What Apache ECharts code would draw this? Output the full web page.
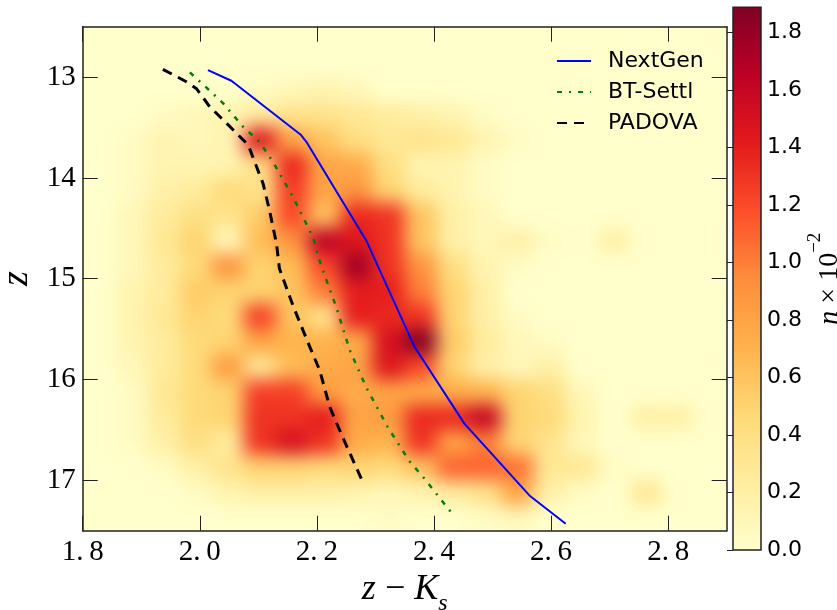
<!DOCTYPE html>
<html><head><meta charset="utf-8">
<script src="https://cdn.jsdelivr.net/npm/echarts@6/dist/echarts.min.js"></script>
<style>html,body{margin:0;padding:0;background:#fff}#c{width:837px;height:610px}</style>
</head><body><div id="c"></div>
<script>
// ---- data ----
const xCenters = [1.8275,1.8825,1.9375,1.9925,2.0475,2.1025,2.1575,2.2125,2.2675,2.3225,2.3775,2.4325,2.4875,2.5425,2.5975,2.6525,2.7075,2.7625,2.8175,2.8725];
const yCenters = [12.625,12.875,13.125,13.375,13.625,13.875,14.125,14.375,14.625,14.875,15.125,15.375,15.625,15.875,16.125,16.375,16.625,16.875,17.125,17.375];
const density = [
 [0,0,0,0,0,0,0,0,0,0,0,0,0,0,0,0,0,0,0,0],
 [0,0,0,0,0,0,0,0,0,0,0,0,0,0,0,0,0,0,0,0],
 [0,0,0,0,0,0.05,0.1,0.15,0.1,0,0,0,0,0,0,0,0,0,0,0],
 [0,0,0.05,0.1,0.15,0.25,0.35,0.35,0.3,0.25,0.2,0.15,0.05,0,0,0,0,0,0,0],
 [0,0.05,0.15,0.1,0.15,1.45,0.8,0.6,0.4,0.3,0.35,0.3,0.15,0.05,0,0,0,0,0,0],
 [0,0.05,0.15,0.15,0.15,0.4,1.35,0.8,0.75,0.4,0.15,0.15,0.05,0,0,0,0,0,0,0],
 [0,0.05,0.2,0.25,0.45,0.35,1.25,0.8,0.9,0.5,0.25,0.15,0.05,0,0,0,0,0,0,0],
 [0,0.1,0.25,0.4,0.35,0.55,1.2,0.6,1.35,1.3,0.6,0.2,0.1,0,0,0,0,0,0,0],
 [0,0.1,0.3,0.5,0.1,0.65,0.9,1.65,1.45,1.3,0.6,0.2,0.1,0.2,0.05,0,0.2,0,0,0],
 [0,0.1,0.25,0.45,0.9,0.5,0.65,1.2,1.75,1.3,0.9,0.4,0.15,0.05,0,0,0,0,0,0],
 [0,0.15,0.25,0.55,0.5,0.5,0.6,1.0,1.4,1.4,1.0,0.5,0.2,0,0,0,0,0,0,0],
 [0,0.15,0.3,0.5,0.45,1.25,0.6,0.35,1.4,1.35,1.3,0.5,0.2,0.05,0,0,0,0,0,0],
 [0,0.15,0.25,0.45,0.5,0.8,0.7,0.7,0.75,1.5,1.88,0.55,0.25,0.1,0.05,0,0,0,0,0],
 [0,0.1,0.25,0.45,0.85,0.3,0.65,0.75,0.8,1.45,1.2,0.5,0.2,0.1,0.2,0,0,0,0,0],
 [0,0.05,0.3,0.45,0.5,1.25,1.25,0.85,0.75,0.8,0.75,0.75,0.7,0.5,0.4,0.1,0,0,0,0],
 [0,0.05,0.25,0.45,0.5,1.3,1.3,1.4,0.8,0.85,1.35,1.35,1.6,0.5,0.45,0.15,0,0.2,0.2,0],
 [0,0.05,0.2,0.4,0.25,1.3,1.5,1.3,0.75,0.7,1.3,0.8,1.0,0.5,0.35,0.1,0,0,0,0],
 [0,0,0.05,0.2,0.35,0.5,0.5,0.45,0.5,0.45,0.6,1.1,1.1,1.05,0.3,0.3,0.05,0,0,0],
 [0,0,0,0.05,0.15,0.2,0.2,0.2,0.15,0.1,0.15,0.25,0.35,0.8,0.2,0.05,0,0.3,0,0],
 [0,0,0,0,0,0,0,0,0,0.05,0,0,0.05,0.1,0,0,0,0,0,0]
];
const nextGenX = [2.014,2.054,2.173,2.182,2.284,2.367,2.452,2.563,2.625];
const nextGenY = [12.93,13.036,13.575,13.642,14.618,15.678,16.438,17.15,17.431];
const btSettlX = [1.983,2.011,2.040,2.074,2.102,2.125,2.159,2.193,2.207,2.233,2.256,2.284,2.321,2.358,2.384,2.429];
const btSettlY = [12.953,13.102,13.261,13.493,13.642,13.841,14.188,14.585,14.866,15.28,15.707,16.075,16.472,16.81,16.985,17.316];
const padovaX = [1.937,1.977,1.994,2.017,2.046,2.080,2.085,2.097,2.108,2.119,2.131,2.136,2.159,2.182,2.205,2.222,2.244,2.276];
const padovaY = [12.923,13.046,13.112,13.294,13.459,13.658,13.708,13.89,14.055,14.32,14.651,14.899,15.264,15.594,15.912,16.274,16.572,16.985];
const xTicks = [1.8,2.0,2.2,2.4,2.6,2.8];
const yTicks = [13,14,15,16,17];
const cbTicks = [0,0.2,0.4,0.6,0.8,1.0,1.2,1.4,1.6,1.8];
const cbMax = 1.887;
const xRange = [1.8, 2.9];
const yRange = [12.5, 17.5];
const seriesNames = ['NextGen','BT-Settl','PADOVA'];

// ---- build ----
const ylorrd = ['#ffffcc','#ffeda0','#fed976','#feb24c','#fd8d3c','#fc4e2a','#e31a1c','#bd0026','#800026'];
const halfW = (xCenters[1]-xCenters[0])/2, halfH = (yCenters[1]-yCenters[0])/2;
const heat = [];
density.forEach((row,j)=>row.forEach((v,k)=>heat.push([xCenters[k], yCenters[j], v])));
const pairs = (xs,ys)=>xs.map((x,i)=>[x,ys[i]]);
const serif = 'Liberation Serif';
const axisCol = '#222';

const chart = echarts.init(document.getElementById('c'), null, {renderer:'canvas'});
chart.setOption({
  animation:false,
  backgroundColor:'transparent',
  grid:[
    {left:82.7, top:26.7, width:644, height:504, zlevel:1, containLabel:false, outerBoundsMode:'none'},
    {left:733, top:7.3, width:28, height:542.7, zlevel:1, containLabel:false, outerBoundsMode:'none'}
  ],
  graphic:[{type:'rect', zlevel:0, z:-10, shape:{x:40,y:0,width:720,height:580}, style:{fill:ylorrd[0]}}],
  visualMap:{show:false, type:'continuous', min:0, max:cbMax, dimension:2, seriesIndex:0, inRange:{color:ylorrd}},
  legend:{
    zlevel:1, orient:'vertical', left:551, top:45, itemWidth:34, itemHeight:14, itemGap:9,
    data:seriesNames, itemStyle:{opacity:0},
    textStyle:{fontFamily:'DejaVu Sans', fontSize:22, color:'#000', lineHeight:22, padding:[0,0,0,12]}
  },
  xAxis:[
    {type:'value', gridIndex:0, min:xRange[0], max:xRange[1], position:'bottom', zlevel:1, z:10,
     axisLine:{show:true, onZero:false, lineStyle:{color:axisCol, width:1.5}},
     axisTick:{show:true, inside:true, length:15, customValues:xTicks, lineStyle:{color:axisCol, width:1}},
     axisLabel:{customValues:xTicks, margin:7, fontFamily:serif, fontSize:29, color:'#000',
       formatter:v=>v.toFixed(1).replace('.', '.\u2009')},
     splitLine:{show:false},
     name:'{i|z} \u2212 {i|K}{s|s}', nameLocation:'middle', nameGap:34,
     nameTextStyle:{fontFamily:serif, fontSize:36, color:'#000',
       rich:{i:{fontFamily:serif, fontStyle:'italic', fontSize:36, color:'#000'},
             s:{fontFamily:serif, fontStyle:'italic', fontSize:24, color:'#000', verticalAlign:'bottom', padding:[0,0,-8,0]}}}},
    {type:'value', gridIndex:0, min:xRange[0], max:xRange[1], position:'top', zlevel:1, z:10,
     axisLine:{show:true, onZero:false, lineStyle:{color:axisCol, width:1.5}},
     axisTick:{show:true, inside:true, length:15, customValues:xTicks, lineStyle:{color:axisCol, width:1}},
     axisLabel:{show:false}, splitLine:{show:false}},
    {type:'value', gridIndex:1, min:0, max:1, show:false}
  ],
  yAxis:[
    {type:'value', gridIndex:0, min:yRange[0], max:yRange[1], inverse:true, position:'left', zlevel:1, z:10,
     axisLine:{show:true, onZero:false, lineStyle:{color:axisCol, width:1.5}},
     axisTick:{show:true, inside:true, length:15, customValues:yTicks, lineStyle:{color:axisCol, width:1}},
     axisLabel:{customValues:yTicks, margin:7, fontFamily:serif, fontSize:29, color:'#000'},
     splitLine:{show:false},
     name:'z', nameLocation:'middle', nameRotate:90, nameGap:46,
     nameTextStyle:{fontFamily:serif, fontStyle:'italic', fontSize:38, color:'#000'}},
    {type:'value', gridIndex:0, min:yRange[0], max:yRange[1], inverse:true, position:'right', zlevel:1, z:10,
     axisLine:{show:true, onZero:false, lineStyle:{color:axisCol, width:1.5}},
     axisTick:{show:true, inside:true, length:15, customValues:yTicks, lineStyle:{color:axisCol, width:1}},
     axisLabel:{show:false}, splitLine:{show:false}},
    {type:'value', gridIndex:1, min:0, max:cbMax, position:'right', zlevel:1, z:10,
     axisLine:{show:false},
     axisTick:{show:true, inside:true, length:6, customValues:cbTicks, lineStyle:{color:axisCol, width:1}},
     axisLabel:{customValues:cbTicks, margin:6, fontFamily:'DejaVu Sans', fontSize:22, color:'#000', formatter:v=>v.toFixed(1)},
     splitLine:{show:false},
     name:'{i|n} \u00d7 10{p|\u22122}', nameLocation:'middle', nameRotate:90, nameGap:50,
     nameTextStyle:{fontFamily:serif, fontSize:28, color:'#000',
       rich:{i:{fontFamily:serif, fontStyle:'italic', fontSize:28, color:'#000'},
             p:{fontFamily:serif, fontSize:19, color:'#000', verticalAlign:'top', padding:[-10,0,0,0]}}}}
  ],
  series:[
    {type:'custom', name:'density', xAxisIndex:0, yAxisIndex:0, zlevel:0, z:1, data:heat,
     encode:{x:0, y:1},
     renderItem:function(params, api){
       const x = api.value(0), y = api.value(1);
       const p1 = api.coord([x-halfW, y-halfH]);
       const p2 = api.coord([x+halfW, y+halfH]);
       return {type:'rect', shape:{x:Math.min(p1[0],p2[0]), y:Math.min(p1[1],p2[1]),
         width:Math.abs(p2[0]-p1[0])+0.6, height:Math.abs(p2[1]-p1[1])+0.6},
         style:{fill:api.visual('color')}};
     }},
    {type:'custom', name:'colorbar', xAxisIndex:2, yAxisIndex:2, zlevel:1, z:1, data:[[0,0]],
     renderItem:function(params, api){
       const cs = params.coordSys;
       return {type:'rect', shape:{x:cs.x, y:cs.y, width:cs.width, height:cs.height},
         style:{fill:new echarts.graphic.LinearGradient(0,1,0,0, ylorrd.map((c,i)=>({offset:i/(ylorrd.length-1), color:c}))),
                stroke:axisCol, lineWidth:1.5}};
     }},
    {type:'line', name:seriesNames[0], xAxisIndex:0, yAxisIndex:0, zlevel:1, z:5, data:pairs(nextGenX,nextGenY),
     symbol:'none', showSymbol:false, clip:false, lineStyle:{color:'#0000ff', width:2}, itemStyle:{color:'#0000ff'}},
    {type:'line', name:seriesNames[1], xAxisIndex:0, yAxisIndex:0, zlevel:1, z:5, data:pairs(btSettlX,btSettlY),
     symbol:'none', showSymbol:false, clip:false, lineStyle:{color:'#008000', width:2.5, type:[5,7,2,7]}, itemStyle:{color:'#008000'}},
    {type:'line', name:seriesNames[2], xAxisIndex:0, yAxisIndex:0, zlevel:1, z:5, data:pairs(padovaX,padovaY),
     symbol:'none', showSymbol:false, clip:false, lineStyle:{color:'#000000', width:3, type:[10,7]}, itemStyle:{color:'#000000'}}
  ]
});
// soften the binned image like an interpolated imshow
(function(){
  let dom = null;
  try { dom = chart.getZr().painter.getLayer(0).dom; } catch(e) {}
  if (!dom) dom = chart.getDom().querySelector('canvas');
  dom.style.filter = 'blur(9px)';
  dom.style.clipPath = 'inset(26.7px 110.3px 79.3px 82.7px)';
})();
</script>
</body></html>
